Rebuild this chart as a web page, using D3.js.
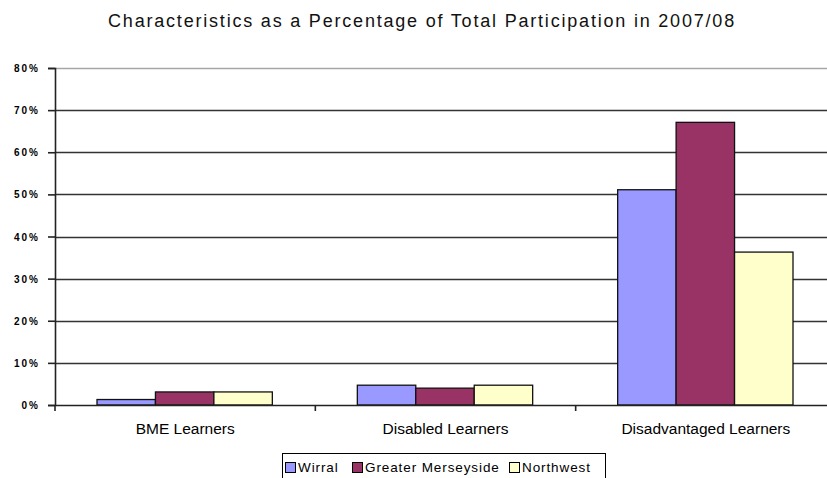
<!DOCTYPE html>
<html>
<head>
<meta charset="utf-8">
<script src="https://cdn.jsdelivr.net/npm/d3@7"></script>
<style>
  body { margin: 0; background: #fff; }
  svg { display: block; font-family: "Liberation Sans", Arial, sans-serif; }
</style>
</head>
<body>
<svg id="chart" width="827" height="478"></svg>
<script>
// Chart data
const categories = ['BME Learners', 'Disabled Learners', 'Disadvantaged Learners'];
const seriesNames = ['Wirral', 'Greater Merseyside', 'Northwest'];
const wirral = [1.3, 4.7, 51.1];
const greaterMerseyside = [3.1, 4.0, 67.1];
const northwest = [3.1, 4.7, 36.3];
const yTicks = [0, 10, 20, 30, 40, 50, 60, 70, 80];
const colors = ['#9999ff', '#993366', '#ffffcc'];

const seriesValues = [wirral, greaterMerseyside, northwest];
const data = categories.map((c, i) => ({
  category: c,
  values: seriesNames.map((s, j) => ({ series: s, value: seriesValues[j][i] }))
}));

const svg = d3.select('#chart');
const margin = { top: 68, left: 55, bottom: 73 };
const chartWidth = 781;
const chartHeight = 478 - margin.top - margin.bottom;

// Title
svg.append('text')
  .attr('x', 422)
  .attr('y', 27)
  .attr('text-anchor', 'middle')
  .attr('font-size', 18)
  .attr('letter-spacing', 1.8)
  .attr('fill', '#111')
  .text('Characteristics as a Percentage of Total Participation in 2007/08');

const chart = svg.append('g')
  .attr('transform', `translate(${margin.left},${margin.top})`);

const xScale = d3.scaleBand()
  .domain(categories)
  .range([0, chartWidth]);

// bars sit 42px in from each band edge
const innerScale = d3.scaleBand()
  .domain(seriesNames)
  .range([42, xScale.bandwidth() - 43]);

const yScale = d3.scaleLinear()
  .domain([0, 80])
  .range([chartHeight, 0]);

// Gridlines
chart.append('g')
  .selectAll('line')
  .data(yTicks.filter(d => d > 0))
  .join('line')
  .attr('x1', 0)
  .attr('x2', chartWidth)
  .attr('y1', d => Math.round(yScale(d)) + 0.5)
  .attr('y2', d => Math.round(yScale(d)) + 0.5)
  .attr('stroke', d => d === 80 ? '#a6a6a6' : '#333')
  .attr('stroke-width', 1.6);

// Bars
const groups = chart.append('g')
  .selectAll('g')
  .data(data)
  .join('g')
  .attr('transform', d => `translate(${xScale(d.category)},0)`);

groups.selectAll('rect')
  .data(d => d.values)
  .join('rect')
  .attr('x', d => innerScale(d.series))
  .attr('y', d => yScale(d.value))
  .attr('width', innerScale.bandwidth())
  .attr('height', d => yScale(0) - yScale(d.value))
  .attr('fill', (d, i) => colors[i])
  .attr('stroke', '#111')
  .attr('stroke-width', 1.3);

// Y axis
const yAxis = d3.axisLeft(yScale)
  .tickValues(yTicks)
  .tickSize(7)
  .tickFormat(d => d + '%');

const yAxisEl = chart.append('g').call(yAxis);
yAxisEl.select('.domain').attr('stroke', '#222').attr('stroke-width', 1.6);
yAxisEl.selectAll('.tick line').attr('stroke', '#222').attr('stroke-width', 1.6);
yAxisEl.selectAll('.tick text')
  .attr('x', -15)
  .attr('dy', '0.35em')
  .attr('font-size', 10)
  .attr('font-weight', 'bold')
  .attr('letter-spacing', 2)
  .attr('fill', '#000')
  .attr('font-family', '"Liberation Sans", Arial, sans-serif');

// X axis
const xAxis = d3.axisBottom(xScale)
  .tickSize(0)
  .tickFormat(d => d);

const xAxisEl = chart.append('g')
  .attr('transform', `translate(0,${chartHeight})`)
  .call(xAxis);
xAxisEl.select('.domain').attr('stroke', '#222').attr('stroke-width', 1.6);
xAxisEl.selectAll('.tick text')
  .attr('y', 18)
  .attr('font-size', 15.5)
  .attr('fill', '#000')
  .attr('font-family', '"Liberation Sans", Arial, sans-serif');

// Category boundary tick marks
xAxisEl.append('g')
  .selectAll('line')
  .data(categories)
  .join('line')
  .attr('x1', d => xScale(d))
  .attr('x2', d => xScale(d))
  .attr('y1', 0)
  .attr('y2', 6)
  .attr('stroke', '#222')
  .attr('stroke-width', 1.6);

// Legend
const legend = svg.append('g').attr('transform', 'translate(282,453)');
legend.append('rect')
  .attr('x', 0.5)
  .attr('y', 0.5)
  .attr('width', 323)
  .attr('height', 30)
  .attr('fill', '#fff')
  .attr('stroke', '#000')
  .attr('stroke-width', 1);

const legendX = [3, 70, 227];
const legendItems = legend.selectAll('g.item')
  .data(seriesNames)
  .join('g')
  .attr('class', 'item')
  .attr('transform', (d, i) => `translate(${legendX[i]},0)`);

legendItems.append('rect')
  .attr('x', 0.5)
  .attr('y', 9.5)
  .attr('width', 10)
  .attr('height', 10)
  .attr('fill', (d, i) => colors[i])
  .attr('stroke', '#000')
  .attr('stroke-width', 1);

legendItems.append('text')
  .attr('x', 13)
  .attr('y', 19)
  .attr('font-size', 13.5)
  .attr('letter-spacing', 0.9)
  .attr('fill', '#000')
  .text(d => d);
</script>
</body>
</html>
